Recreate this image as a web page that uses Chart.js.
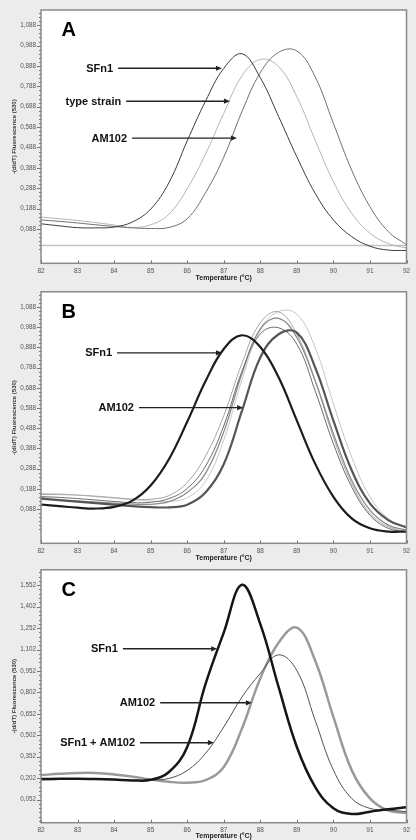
<!DOCTYPE html>
<html>
<head>
<meta charset="utf-8">
<script src="https://cdn.jsdelivr.net/npm/chart.js@4.4.1/dist/chart.umd.min.js"></script>
<style>
  html, body { margin: 0; padding: 0; width: 416px; height: 840px; overflow: hidden; background: #ececec; }
  canvas { position: absolute; left: 0; }
</style>
</head>
<body>
<canvas id="panelA" width="416" height="284" style="top:0px"></canvas>
<canvas id="panelB" width="416" height="281" style="top:283px"></canvas>
<canvas id="panelC" width="416" height="279" style="top:561px"></canvas>
<script>
// melting temperature grid (°C)
const temps = [82, 82.5, 83, 83.5, 84, 84.5, 85, 85.5, 86, 86.5, 87, 87.5, 88, 88.5, 89, 89.5, 90, 90.5, 91, 91.5, 92];
const xTicks = [82, 83, 84, 85, 86, 87, 88, 89, 90, 91, 92];
const yTicksAB = [0.088, 0.188, 0.288, 0.388, 0.488, 0.588, 0.688, 0.788, 0.888, 0.988, 1.088];
const yTicksC = [0.052, 0.202, 0.352, 0.502, 0.652, 0.802, 0.952, 1.102, 1.252, 1.402, 1.552];

// panel A
const sfn1A = [0.113, 0.103, 0.094, 0.093, 0.097, 0.122, 0.185, 0.315, 0.52, 0.715, 0.876, 0.948, 0.83, 0.64, 0.442, 0.263, 0.132, 0.05, 0.003, -0.016, -0.018];
const typeStrainA = [0.146, 0.138, 0.129, 0.119, 0.107, 0.095, 0.108, 0.16, 0.285, 0.455, 0.655, 0.84, 0.92, 0.885, 0.737, 0.524, 0.32, 0.165, 0.067, 0.016, -0.006];
const am102A = [0.132, 0.125, 0.117, 0.108, 0.1, 0.093, 0.09, 0.095, 0.138, 0.265, 0.44, 0.665, 0.855, 0.955, 0.962, 0.835, 0.606, 0.377, 0.197, 0.075, 0.01];
const baselineTempsA = [82, 92];
const baselineA = [0.006, 0.006];

// panel B
const sfn1B = [0.111, 0.103, 0.095, 0.091, 0.099, 0.13, 0.205, 0.335, 0.52, 0.72, 0.88, 0.948, 0.89, 0.74, 0.526, 0.313, 0.149, 0.042, -0.007, -0.023, -0.023];
const am102B = [0.141, 0.133, 0.125, 0.118, 0.11, 0.103, 0.098, 0.097, 0.11, 0.17, 0.31, 0.575, 0.838, 0.953, 0.961, 0.789, 0.526, 0.28, 0.116, 0.034, -0.002];
const strainB1 = [0.165, 0.163, 0.158, 0.15, 0.142, 0.134, 0.128, 0.126, 0.145, 0.225, 0.43, 0.73, 0.975, 1.065, 1.052, 0.887, 0.609, 0.346, 0.149, 0.042, -0.007];
const strainB2 = [0.16, 0.16, 0.157, 0.152, 0.145, 0.138, 0.137, 0.155, 0.22, 0.35, 0.55, 0.81, 1.01, 1.064, 0.953, 0.723, 0.444, 0.215, 0.067, 0.001, -0.024];
const strainB3 = [0.136, 0.132, 0.128, 0.123, 0.118, 0.113, 0.112, 0.125, 0.17, 0.265, 0.47, 0.76, 0.98, 1.032, 0.937, 0.723, 0.461, 0.231, 0.083, 0.009, -0.015];
const strainB4 = [0.15, 0.146, 0.14, 0.133, 0.126, 0.12, 0.122, 0.14, 0.19, 0.3, 0.5, 0.77, 0.955, 0.985, 0.904, 0.674, 0.412, 0.198, 0.058, -0.007, -0.023];

// panel C
const sfn1C = [0.195, 0.197, 0.198, 0.196, 0.192, 0.186, 0.19, 0.245, 0.42, 0.86, 1.22, 1.555, 1.28, 0.84, 0.42, 0.141, -0.009, -0.049, -0.033, -0.016, -0.002];
const am102C = [0.223, 0.232, 0.238, 0.238, 0.228, 0.212, 0.193, 0.176, 0.17, 0.188, 0.28, 0.55, 0.9, 1.15, 1.255, 1.025, 0.63, 0.258, 0.06, -0.026, -0.04];
const mixC = [0.19, 0.192, 0.194, 0.193, 0.19, 0.186, 0.188, 0.2, 0.255, 0.375, 0.56, 0.77, 0.935, 1.065, 0.955, 0.607, 0.258, 0.06, -0.01, -0.021, -0.033];

const FONT = '"Liberation Sans", Arial, sans-serif';

function pts(xs, ys) {
    return xs.map((x, i) => ({ x: x, y: ys[i] }));
}

function curve(values, color, width) {
    return {
        data: pts(temps, values),
        borderColor: color,
        borderWidth: width,
        pointRadius: 0,
        tension: 0.4,
        fill: false,
    };
}

// white plot box, frame, tick marks, arrows and panel letter
const framePlugin = {
    id: 'frame',
    beforeDraw(chart) {
        const { ctx, chartArea: a } = chart;
        ctx.save();
        ctx.fillStyle = '#ffffff';
        ctx.fillRect(a.left, a.top, a.right - a.left, a.bottom - a.top);
        ctx.restore();
    },
    afterDraw(chart, args, opts) {
        const { ctx, chartArea: a, scales } = chart;
        const xs = scales.x;
        const ys = scales.y;
        ctx.save();

        // frame
        ctx.strokeStyle = '#8a8a8a';
        ctx.lineWidth = 1.5;
        ctx.strokeRect(a.left, a.top, a.right - a.left, a.bottom - a.top);

        // y ticks, major and minor
        ctx.strokeStyle = '#777';
        ctx.lineWidth = 1;
        const yt = opts.yTicks;
        const step = yt[1] - yt[0];
        for (let v = yt[0] - step; v <= yt[yt.length - 1] + step; v += step / 5) {
            if (v < ys.min || v > ys.max) continue;
            const y = Math.round(ys.getPixelForValue(v)) + 0.5;
            const major = yt.some(t => Math.abs(t - v) < step / 50);
            ctx.beginPath();
            ctx.moveTo(a.left - (major ? 4 : 2), y);
            ctx.lineTo(a.left, y);
            ctx.stroke();
        }
        // x ticks point inward
        xTicks.forEach(t => {
            const x = Math.round(xs.getPixelForValue(t)) + 0.5;
            ctx.beginPath();
            ctx.moveTo(x, a.bottom);
            ctx.lineTo(x, a.bottom - 3);
            ctx.stroke();
        });

        // arrows with labels
        ctx.font = 'bold 11px ' + FONT;
        ctx.textAlign = 'right';
        ctx.textBaseline = 'middle';
        opts.notes.forEach(n => {
            const x0 = xs.getPixelForValue(n.from);
            const x1 = xs.getPixelForValue(n.to);
            const y = ys.getPixelForValue(n.y);
            ctx.fillStyle = '#111';
            ctx.fillText(n.text, x0 - 5, y + 0.5);
            ctx.strokeStyle = '#222';
            ctx.lineWidth = 1.4;
            ctx.beginPath();
            ctx.moveTo(x0, y);
            ctx.lineTo(x1 - 5, y);
            ctx.stroke();
            ctx.fillStyle = '#222';
            ctx.beginPath();
            ctx.moveTo(x1, y);
            ctx.lineTo(x1 - 6, y - 2.6);
            ctx.lineTo(x1 - 6, y + 2.6);
            ctx.closePath();
            ctx.fill();
        });

        // panel letter
        ctx.fillStyle = '#000';
        ctx.font = 'bold 20px ' + FONT;
        ctx.textAlign = 'left';
        ctx.textBaseline = 'alphabetic';
        ctx.fillText(opts.letter, a.left + 20.5, a.top + 26);
        ctx.restore();
    }
};

function makePanel(id, cfg) {
    const ctx = document.getElementById(id).getContext('2d');
    return new Chart(ctx, {
        type: 'line',
        data: { datasets: cfg.datasets },
        options: {
            responsive: false,
            animation: false,
            events: [],
            layout: { padding: { top: cfg.padTop, right: 9.5, left: 0, bottom: 0 } },
            plugins: {
                legend: { display: false },
                tooltip: { enabled: false },
                frame: { letter: cfg.letter, notes: cfg.notes, yTicks: cfg.yTicks },
            },
            scales: {
                x: {
                    type: 'linear',
                    min: 82,
                    max: 92,
                    grid: { display: false, drawTicks: false },
                    border: { display: false },
                    afterBuildTicks: s => { s.ticks = xTicks.map(v => ({ value: v })); },
                    afterFit: s => { s.height = cfg.xAxisHeight; },
                    ticks: {
                        padding: 4,
                        color: '#555',
                        autoSkip: false,
                        maxRotation: 0,
                        font: { family: FONT, size: 6.5 },
                        callback: v => String(v),
                    },
                    title: {
                        display: true,
                        text: 'Temperature (°C)',
                        color: '#222',
                        font: { family: FONT, size: 7, weight: 'bold' },
                        padding: { top: 0, bottom: cfg.titlePad },
                    },
                },
                y: {
                    min: cfg.yMin,
                    max: cfg.yMax,
                    grid: { display: false, drawTicks: false },
                    border: { display: false },
                    afterBuildTicks: s => { s.ticks = cfg.yTicks.map(v => ({ value: v })); },
                    afterFit: s => { s.width = 41; },
                    ticks: {
                        padding: 5,
                        color: '#555',
                        autoSkip: false,
                        font: { family: FONT, size: 6.3 },
                        callback: v => v.toFixed(3).replace('.', ','),
                    },
                    title: {
                        display: true,
                        text: '-(d/dT) Fluorescence (530)',
                        color: '#333',
                        font: { family: FONT, size: 6, weight: 'bold' },
                        padding: { top: 10.5, bottom: 0 },
                    },
                },
            },
        },
        plugins: [framePlugin],
    });
}

const baselineSet = {
    data: pts(baselineTempsA, baselineA),
    borderColor: '#c4c4c4',
    borderWidth: 1.5,
    pointRadius: 0,
};

const charts = {};

charts.a = makePanel('panelA', {
    letter: 'A',
    padTop: 10, xAxisHeight: 20.7, titlePad: 1.3,
    yMin: -0.081, yMax: 1.163, yTicks: yTicksAB,
    datasets: [
        curve(sfn1A, '#3c3c3c', 1),
        curve(am102A, '#707070', 1),
        curve(typeStrainA, '#b4b4b4', 1),
        baselineSet,
    ],
    notes: [
        { text: 'SFn1', from: 84.11, to: 86.95, y: 0.877 },
        { text: 'type strain', from: 84.33, to: 87.17, y: 0.715 },
        { text: 'AM102', from: 84.49, to: 87.36, y: 0.534 },
    ],
});

charts.b = makePanel('panelB', {
    letter: 'B',
    padTop: 7.7, xAxisHeight: 20.7, titlePad: 1.3,
    yMin: -0.081, yMax: 1.163, yTicks: yTicksAB,
    datasets: [
        curve(sfn1B, '#1c1c1c', 2.2),
        curve(am102B, '#555555', 2.2),
        curve(strainB4, '#6c6c6c', 1),
        curve(strainB3, '#8c8c8c', 1.3),
        curve(strainB2, '#a6a6a6', 1),
        curve(strainB1, '#c6c6c6', 1),
    ],
    notes: [
        { text: 'SFn1', from: 84.08, to: 86.95, y: 0.861 },
        { text: 'AM102', from: 84.68, to: 87.53, y: 0.590 },
    ],
});

charts.c = makePanel('panelC', {
    letter: 'C',
    padTop: 8, xAxisHeight: 17.3, titlePad: 0,
    yMin: -0.110, yMax: 1.660, yTicks: yTicksC,
    datasets: [
        curve(sfn1C, '#161616', 2.5),
        curve(mixC, '#505050', 1),
        curve(am102C, '#9a9a9a', 2.5),
    ],
    notes: [
        { text: 'SFn1', from: 84.24, to: 86.82, y: 1.107 },
        { text: 'AM102', from: 85.26, to: 87.77, y: 0.729 },
        { text: 'SFn1 + AM102', from: 84.71, to: 86.73, y: 0.450 },
    ],
});
</script>
</body>
</html>
